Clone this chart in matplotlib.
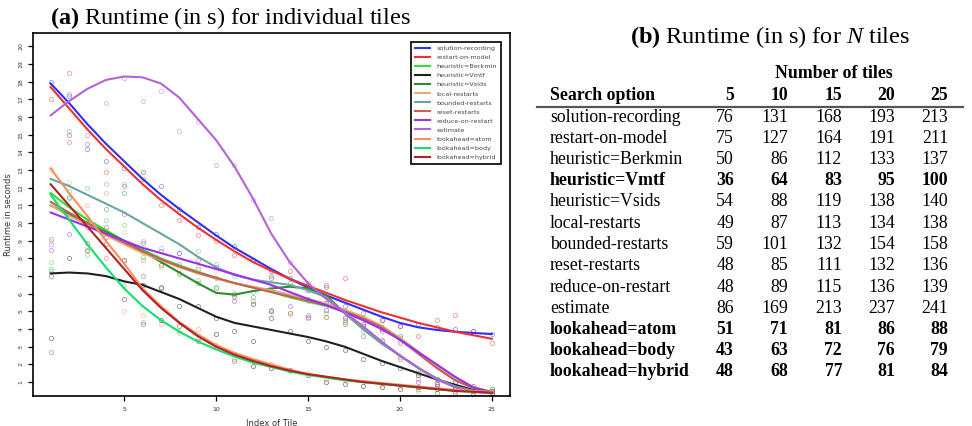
import matplotlib
matplotlib.use("Agg")
import matplotlib.pyplot as plt
import numpy as np

plt.rcParams['mathtext.fontset'] = 'custom'
plt.rcParams['mathtext.rm'] = 'Liberation Serif'
plt.rcParams['mathtext.bf'] = 'Liberation Serif:bold'
plt.rcParams['mathtext.it'] = 'Liberation Serif:italic'

# ---- panel (a): runtime per tile ----
tiles = list(range(1, 26))

series = ["solution-recording", "restart-on-model", "heuristic=Berkmin", "heuristic=Vmtf",
          "heuristic=Vsids", "local-restarts", "bounded-restarts", "reset-restarts",
          "reduce-on-restart", "estimate", "lookahead=atom", "lookahead=body", "lookahead=hybrid"]

# smoothed curves, read at every tile index
fit_solution = [17.9, 16.8, 15.6, 14.5, 13.5, 12.5, 11.6, 10.8, 10.05, 9.3, 8.6, 8.0, 7.4,
                6.85, 6.35, 5.9, 5.5, 5.1, 4.7, 4.35, 4.1, 3.95, 3.85, 3.78, 3.72]
fit_restart = [17.7, 16.5, 15.3, 14.2, 13.2, 12.2, 11.3, 10.5, 9.75, 9.05, 8.4, 7.8, 7.3,
               6.85, 6.45, 6.05, 5.65, 5.3, 4.95, 4.65, 4.35, 4.1, 3.85, 3.65, 3.45]
fit_berkmin = [11.7, 10.9, 10.2, 9.6, 9.0, 8.5, 8.0, 7.6, 7.25, 6.9, 6.6, 6.35, 6.1,
               5.8, 5.55, 5.3, 5.0, 4.6, 4.15, 3.5, 2.7, 1.9, 1.2, 0.7, 0.45]
fit_vmtf = [7.15, 7.2, 7.15, 7.0, 6.7, 6.5, 6.1, 5.7, 5.2, 4.7, 4.35, 4.15, 3.95,
            3.75, 3.55, 3.3, 3.0, 2.6, 2.2, 1.85, 1.5, 1.15, 0.85, 0.55, 0.4]
fit_vsids = [11.0, 10.5, 10.0, 9.5, 9.0, 8.4, 7.8, 7.2, 6.6, 6.05, 5.95, 6.15, 6.3,
             6.4, 6.3, 5.9, 4.9, 4.0, 3.2, 2.5, 1.8, 1.2, 0.75, 0.5, 0.4]
fit_local = [11.0, 10.4, 9.9, 9.3, 8.8, 8.3, 7.9, 7.5, 7.15, 6.85, 6.6, 6.4, 6.2,
             5.95, 5.7, 5.45, 5.1, 4.7, 4.2, 3.5, 2.7, 1.9, 1.2, 0.7, 0.45]
fit_bounded = [12.5, 12.1, 11.6, 11.1, 10.6, 10.0, 9.4, 8.8, 8.1, 7.5, 7.05, 6.8, 6.65,
               6.5, 6.2, 5.8, 4.9, 4.0, 3.2, 2.5, 1.8, 1.2, 0.75, 0.5, 0.4]
fit_reset = [11.2, 10.6, 10.0, 9.4, 8.9, 8.4, 7.95, 7.55, 7.2, 6.9, 6.6, 6.35, 6.1,
             5.85, 5.6, 5.35, 5.0, 4.6, 4.1, 3.4, 2.6, 1.8, 1.1, 0.65, 0.45]
fit_reduce = [10.6, 10.2, 9.8, 9.4, 9.0, 8.6, 8.3, 8.0, 7.7, 7.4, 7.1, 6.8, 6.5,
              6.1, 5.7, 5.35, 4.95, 4.5, 4.0, 3.4, 2.7, 2.0, 1.3, 0.7, 0.4]
fit_estimate = [16.1, 16.9, 17.6, 18.1, 18.3, 18.25, 17.9, 17.1, 15.9, 14.7, 13.2, 11.4, 9.4,
                7.8, 6.6, 5.7, 4.95, 4.15, 3.3, 2.5, 1.8, 1.15, 0.7, 0.45, 0.35]
fit_atom = [13.1, 11.7, 10.4, 9.0, 7.7, 6.3, 5.3, 4.4, 3.7, 3.1, 2.65, 2.3, 2.0,
            1.7, 1.45, 1.3, 1.15, 1.05, 0.95, 0.85, 0.75, 0.65, 0.55, 0.5, 0.45]
fit_body = [11.6, 10.2, 8.8, 7.5, 6.3, 5.3, 4.5, 3.85, 3.3, 2.85, 2.45, 2.1, 1.85,
            1.6, 1.4, 1.25, 1.1, 1.0, 0.9, 0.8, 0.7, 0.6, 0.5, 0.45, 0.4]
fit_hybrid = [12.2, 11.0, 9.8, 8.6, 7.4, 6.2, 5.2, 4.35, 3.6, 3.0, 2.55, 2.2, 1.9,
              1.65, 1.45, 1.3, 1.15, 1.0, 0.9, 0.8, 0.7, 0.6, 0.5, 0.45, 0.4]

# individual tile runtimes (scatter)
pts_solution = [18.0, 17.2, 14.2, 13.5, 13.1, 12.9, 12.1, 10.8, 9.8, 9.4, 8.7, 7.9, 7.3,
                6.9, 6.2, 6.4, 5.3, 4.6, 4.5, 4.2, 4.3, 4.1, 4.0, 3.9, 3.7]
pts_restart = [17.0, 18.5, 14.5, 12.9, 12.1, 12.5, 11.0, 10.2, 9.3, 9.0, 8.2, 7.9, 7.0,
               7.3, 6.6, 6.5, 6.9, 4.9, 4.5, 4.2, 3.6, 4.5, 4.8, 3.9, 3.2]
pts_berkmin = [7.8, 11.8, 10.3, 10.2, 9.9, 8.1, 7.6, 7.1, 6.8, 6.4, 5.9, 5.6, 5.0,
               4.9, 4.6, 4.7, 4.4, 4.3, 4.0, 3.6, 1.6, 0.9, 0.6, 0.5, 0.4]
pts_vmtf = [3.5, 8.0, 10.0, 8.8, 5.7, 6.5, 6.3, 5.3, 5.3, 4.6, 3.9, 3.3, 4.6,
            3.9, 3.3, 3.0, 2.8, 2.3, 2.1, 1.8, 1.4, 1.2, 1.0, 0.8, 0.6]
pts_vsids = [2.7, 11.4, 8.5, 10.8, 11.7, 7.0, 6.4, 7.7, 6.6, 6.3, 6.0, 5.8, 6.9,
             6.6, 5.7, 5.5, 4.3, 3.6, 3.3, 2.3, 0.6, 0.4, 0.4, 0.3, 0.3]
pts_local = [9.0, 12.3, 8.6, 9.6, 9.5, 8.3, 7.5, 7.4, 7.5, 7.3, 6.1, 5.6, 4.9,
             4.8, 4.6, 5.1, 4.4, 4.2, 4.0, 3.3, 1.5, 0.8, 0.7, 0.5, 0.5]
pts_bounded = [7.4, 15.2, 12.0, 12.2, 12.2, 9.0, 8.6, 8.3, 8.4, 7.7, 7.0, 6.1, 6.3,
               6.0, 5.6, 4.9, 4.7, 4.7, 4.1, 3.6, 1.5, 1.0, 0.6, 0.5, 0.4]
pts_reset = [9.1, 14.6, 8.4, 8.0, 7.9, 7.9, 7.6, 7.2, 7.4, 6.9, 5.8, 5.4, 5.1,
             4.9, 4.8, 4.7, 4.5, 4.3, 4.0, 3.5, 1.4, 0.9, 0.7, 0.5, 0.5]
pts_reduce = [8.5, 9.4, 9.8, 9.8, 10.5, 8.9, 8.4, 8.3, 7.9, 7.5, 5.6, 5.4, 5.0,
              5.3, 4.7, 5.1, 4.6, 4.2, 3.9, 3.2, 1.0, 0.8, 0.5, 0.4, 0.3]
pts_estimate = [8.8, 17.3, 15.0, 16.8, 18.2, 16.9, 17.5, 15.2, 15.75, 13.3, 13.3, 11.3, 10.3,
                7.8, 6.2, 5.5, 5.0, 3.9, 3.4, 2.4, 1.2, 0.9, 0.7, 0.5, 0.4]
pts_atom = [13.0, 10.3, 11.0, 11.7, 5.0, 4.8, 4.3, 3.8, 4.0, 3.1, 2.6, 2.2, 2.0,
            1.7, 1.5, 1.2, 1.1, 1.0, 0.9, 0.8, 0.5, 0.4, 0.4, 0.4, 0.3]
pts_body = [7.3, 11.5, 8.2, 9.5, 6.5, 4.4, 4.5, 3.9, 3.5, 3.7, 2.3, 1.9, 1.8,
            1.6, 1.4, 1.0, 0.9, 0.8, 0.7, 0.6, 0.7, 0.6, 0.6, 0.6, 0.5]
pts_hybrid = [7.0, 15.0, 8.9, 9.2, 7.9, 4.3, 4.5, 4.2, 3.3, 3.7, 2.2, 1.9, 1.8,
              1.7, 1.4, 1.0, 0.9, 0.8, 0.7, 0.6, 0.7, 0.6, 0.6, 0.6, 0.5]

fits = [fit_solution, fit_restart, fit_berkmin, fit_vmtf, fit_vsids, fit_local, fit_bounded,
        fit_reset, fit_reduce, fit_estimate, fit_atom, fit_body, fit_hybrid]
points = [pts_solution, pts_restart, pts_berkmin, pts_vmtf, pts_vsids, pts_local, pts_bounded,
          pts_reset, pts_reduce, pts_estimate, pts_atom, pts_body, pts_hybrid]
colors = ["#2f2ff5", "#f03030", "#30e030", "#202020", "#2e8b2e", "#d9b47a", "#6aa6a0",
          "#cd5c5c", "#9b30f0", "#b462d8", "#ff8c5a", "#10e070", "#b22222"]

# ---- panel (b): runtime for N tiles ----
table_options = series
n_tiles = [5, 10, 15, 20, 25]
runtime_n5 = [76, 75, 50, 36, 54, 49, 59, 48, 48, 86, 51, 43, 48]
runtime_n10 = [131, 127, 86, 64, 88, 87, 101, 85, 89, 169, 71, 63, 68]
runtime_n15 = [168, 164, 112, 83, 119, 113, 132, 111, 115, 213, 81, 72, 77]
runtime_n20 = [193, 191, 133, 95, 138, 134, 154, 132, 136, 237, 86, 76, 81]
runtime_n25 = [213, 211, 137, 100, 140, 138, 158, 136, 139, 241, 88, 79, 84]
bold_rows = ["heuristic=Vmtf", "lookahead=atom", "lookahead=body", "lookahead=hybrid"]

W, H = 972, 426
fig = plt.figure(figsize=(W / 100, H / 100), dpi=100)


def fx(px):
    return px / W


def fy(py):
    return 1 - py / H


ax = fig.add_axes([fx(33), fy(395.5), (509.5 - 33) / W, (395.5 - 33) / H])
for name, f, p, c in zip(series, fits, points, colors):
    ax.plot(tiles, p, linestyle="none", marker="o", markersize=3.0, markerfacecolor="none",
            markeredgecolor=c, markeredgewidth=0.6, alpha=0.5)
for name, f, p, c in zip(series, fits, points, colors):
    ax.plot(tiles, f, color=c, lw=1.5, label=name)

ax.set_xlim(0.04, 25.96)
ax.set_ylim(0.24, 20.76)
ax.set_xticks([5, 10, 15, 20, 25])
ax.set_yticks(range(1, 21))
ax.tick_params(direction="out", length=3.5, width=0.9, labelsize=4.5, labelcolor="#333333")
ax.tick_params(axis="x", pad=5)
for lab in ax.get_yticklabels():
    lab.set_rotation(90)
    lab.set_va("center")
for s in ax.spines.values():
    s.set_linewidth(1.2)
ax.set_xlabel("Index of Tile", fontsize=6, color="#333333", labelpad=4.5)
ax.set_ylabel("Runtime in seconds", fontsize=6, color="#333333", labelpad=4)

leg = ax.legend(loc="upper right", fontsize=4.6, fancybox=False, edgecolor="black",
                framealpha=1, handlelength=2.4, labelspacing=0.56, borderaxespad=1.4,
                handletextpad=0.9, borderpad=0.6)
leg.get_frame().set_linewidth(1.2)
for t in leg.get_texts():
    t.set_color("#444444")

fig.text(fx(230), fy(18), r"$\mathbf{(a)}$ Runtime (in s) for individual tiles",
         family="Liberation Serif", fontsize=17.5, ha="center", va="center")
fig.text(fx(770), fy(37), r"$\mathbf{(b)}$ Runtime (in s) for $N$ tiles",
         family="Liberation Serif", fontsize=17.5, ha="center", va="center")

# table
tsize = 12.8
col_right = [734, 788, 842, 895, 948]
label_x = 550
fig.text(fx(834), fy(74), "Number of tiles", family="Liberation Serif", fontsize=tsize,
         fontweight="bold", ha="center", va="center")
fig.text(fx(label_x), fy(96), "Search option", family="Liberation Serif", fontsize=tsize,
         fontweight="bold", ha="left", va="center")
for n, xr in zip(n_tiles, col_right):
    fig.text(fx(xr), fy(96), str(n), family="Liberation Serif", fontsize=tsize,
             fontweight="bold", ha="right", va="center")
fig.add_artist(plt.Line2D([fx(537), fx(963)], [fy(106.5), fy(106.5)], color="#555555", lw=1.6))

columns = [runtime_n5, runtime_n10, runtime_n15, runtime_n20, runtime_n25]
for i, opt in enumerate(table_options):
    yy = fy(117 + 21.25 * i)
    w = "bold" if opt in bold_rows else "normal"
    fig.text(fx(label_x), yy, opt, family="Liberation Serif", fontsize=tsize, fontweight=w,
             ha="left", va="center")
    for col, xr in zip(columns, col_right):
        fig.text(fx(xr), yy, str(col[i]), family="Liberation Serif", fontsize=tsize,
                 fontweight=w, ha="right", va="center")

fig.savefig("out.png", dpi=100)
